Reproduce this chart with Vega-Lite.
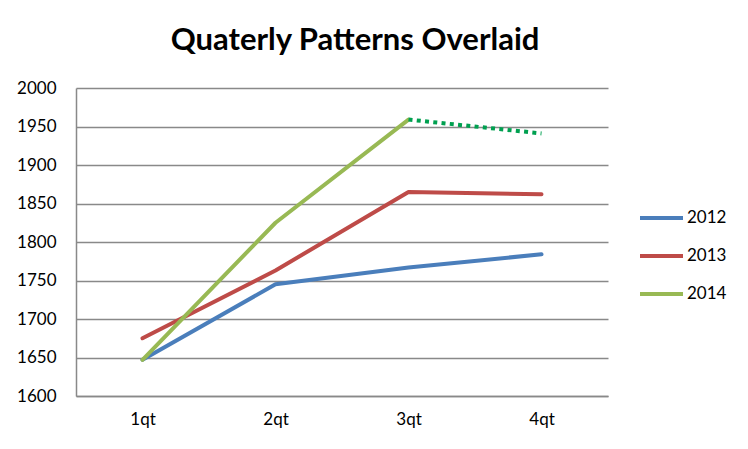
{
  "$schema": "https://vega.github.io/schema/vega-lite/v6.json",
  "width": 532,
  "height": 308,
  "autosize": {"type": "none"},
  "padding": {"left": 76, "top": 88, "right": 140, "bottom": 53},
  "background": "white",
  "title": {
    "text": "Quaterly Patterns Overlaid",
    "font": "Lato",
    "fontSize": 31,
    "fontWeight": "bold",
    "color": "black",
    "anchor": "middle",
    "dx": 13,
    "offset": 22
  },
  "data": {
    "values": [
      {"quarter": "1qt", "year": "2012", "value": 1647, "kind": "actual"},
      {"quarter": "2qt", "year": "2012", "value": 1745, "kind": "actual"},
      {"quarter": "3qt", "year": "2012", "value": 1767, "kind": "actual"},
      {"quarter": "4qt", "year": "2012", "value": 1784, "kind": "actual"},
      {"quarter": "1qt", "year": "2013", "value": 1675, "kind": "actual"},
      {"quarter": "2qt", "year": "2013", "value": 1763, "kind": "actual"},
      {"quarter": "3qt", "year": "2013", "value": 1865, "kind": "actual"},
      {"quarter": "4qt", "year": "2013", "value": 1862, "kind": "actual"},
      {"quarter": "1qt", "year": "2014", "value": 1647, "kind": "actual"},
      {"quarter": "2qt", "year": "2014", "value": 1825, "kind": "actual"},
      {"quarter": "3qt", "year": "2014", "value": 1959, "kind": "actual"},
      {"quarter": "3qt", "year": "2014", "value": 1959, "kind": "projected"},
      {"quarter": "4qt", "year": "2014", "value": 1941, "kind": "projected"}
    ]
  },
  "encoding": {
    "x": {
      "field": "quarter",
      "type": "ordinal",
      "sort": ["1qt", "2qt", "3qt", "4qt"],
      "scale": {"type": "point", "padding": 0.5},
      "axis": {
        "title": null,
        "labelAngle": 0,
        "labelFont": "Lato",
        "labelFontSize": 17,
        "labelColor": "black",
        "labelPadding": 15,
        "ticks": false,
        "domainColor": "#898989",
        "domainWidth": 1.5,
        "grid": false
      }
    },
    "y": {
      "field": "value",
      "type": "quantitative",
      "scale": {"domain": [1600, 2000], "nice": false, "zero": false},
      "axis": {
        "title": null,
        "format": "d",
        "values": [1600, 1650, 1700, 1750, 1800, 1850, 1900, 1950, 2000],
        "labelFont": "Lato",
        "labelFontSize": 17,
        "labelColor": "black",
        "labelPadding": 20,
        "ticks": false,
        "domainColor": "#898989",
        "domainWidth": 1.5,
        "grid": true,
        "gridColor": "#898989",
        "gridWidth": 1.5
      }
    }
  },
  "layer": [
    {
      "transform": [{"filter": "datum.kind == 'actual'"}],
      "mark": {"type": "line", "strokeWidth": 4, "strokeCap": "round", "strokeJoin": "round"},
      "encoding": {
        "color": {
          "field": "year",
          "type": "nominal",
          "scale": {"domain": ["2012", "2013", "2014"], "range": ["#4A7EBB", "#BE4B48", "#98B954"]},
          "legend": {
            "title": null,
            "orient": "none",
            "legendX": 562,
            "legendY": 121,
            "symbolType": "stroke",
            "symbolSize": 1849,
            "symbolStrokeWidth": 4,
            "clipHeight": 18,
            "rowPadding": 20,
            "labelFont": "Lato",
            "labelFontSize": 17,
            "labelColor": "black",
            "labelOffset": 2
          }
        }
      }
    },
    {
      "transform": [{"filter": "datum.kind == 'projected'"}],
      "mark": {"type": "line", "strokeWidth": 4, "strokeDash": [4, 4.3], "strokeCap": "butt", "color": "#00A050"},
      "encoding": {}
    }
  ],
  "config": {"view": {"stroke": null}}
}
